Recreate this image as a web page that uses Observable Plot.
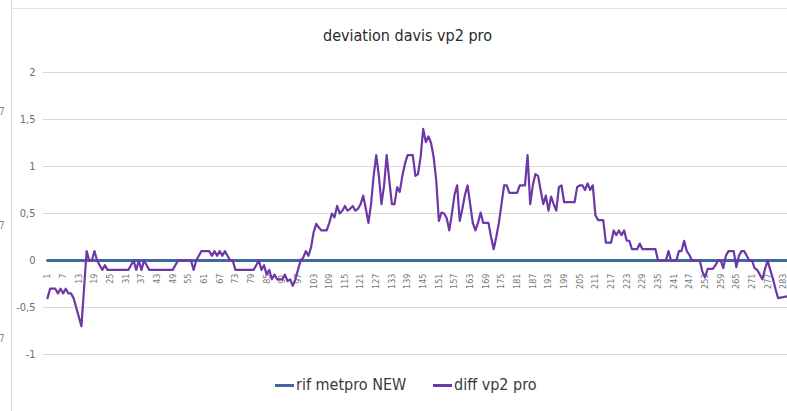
<!DOCTYPE html>
<html><head><meta charset="utf-8">
<script src="https://cdn.jsdelivr.net/npm/d3@7"></script>
<script src="https://cdn.jsdelivr.net/npm/@observablehq/plot@0.6"></script>
<style>
body{margin:0;background:#fff;}
#wrap{position:relative;width:787px;height:411px;overflow:hidden;background:#fff;font-family:"Liberation Sans Narrow","DejaVu Sans Condensed",sans-serif;}
#wrap svg{position:absolute;left:0;top:0;}
.abs{position:absolute;white-space:nowrap;}
</style></head><body>
<div id="wrap"></div>
<script>
const title = "deviation davis vp2 pro";
const seriesNames = ["rif metpro NEW", "diff vp2 pro"];
const seriesColors = ["#41679f", "#6c37a6"];
const yTicks = [-1, -0.5, 0, 0.5, 1, 1.5, 2];
const xTickLabels = [1,7,13,19,25,31,37,43,49,55,61,67,73,79,85,91,97,103,109,115,121,127,133,139,145,151,157,163,169,175,181,187,193,199,205,211,217,223,229,235,241,247,253,259,265,271,277,283];
const rifIdx = [1, 285];
const rifVal = [0, 0];
const diffIdx = [1,2,4,5,6,7,8,9,10,11,12,13,14,15,16,17,18,19,20,21,22,23,24,25,32,33,34,35,36,37,38,39,40,49,50,51,56,57,58,59,60,63,64,65,66,67,68,69,70,71,72,73,80,81,82,83,84,85,86,87,88,89,91,92,93,94,95,96,97,98,99,100,101,102,103,104,105,106,108,109,110,111,112,113,114,115,116,117,118,119,120,121,122,123,124,125,126,127,128,129,130,131,132,133,134,135,136,137,138,139,141,142,143,144,145,146,147,148,149,150,151,152,153,154,155,156,157,158,159,160,161,162,163,164,165,166,167,168,170,171,172,173,174,175,176,177,178,181,182,184,185,186,187,188,189,190,191,192,193,194,195,196,197,198,199,203,204,205,206,207,208,209,210,211,212,214,215,217,218,219,220,221,222,223,224,225,227,228,229,234,235,238,239,240,242,243,244,245,246,247,248,251,252,253,254,256,257,258,259,260,261,262,264,265,266,267,268,269,270,271,272,273,274,275,276,277,278,279,280,281,285];
const diffVal = [-0.40,-0.30,-0.30,-0.35,-0.30,-0.35,-0.30,-0.35,-0.35,-0.40,-0.50,-0.60,-0.70,-0.30,0.10,0.00,0.00,0.10,0.00,-0.05,-0.10,-0.05,-0.10,-0.10,-0.10,-0.05,0.00,-0.10,0.00,-0.10,0.00,-0.05,-0.10,-0.10,-0.05,0.00,0.00,-0.10,0.00,0.05,0.10,0.10,0.05,0.10,0.05,0.10,0.05,0.10,0.05,0.00,0.00,-0.10,-0.10,-0.05,0.00,-0.10,-0.05,-0.15,-0.10,-0.20,-0.15,-0.20,-0.20,-0.15,-0.22,-0.20,-0.27,-0.20,-0.10,0.00,0.03,0.10,0.05,0.14,0.30,0.39,0.35,0.32,0.32,0.40,0.50,0.46,0.58,0.50,0.53,0.58,0.53,0.55,0.58,0.53,0.55,0.60,0.69,0.55,0.40,0.60,0.90,1.12,0.90,0.60,0.80,1.12,0.85,0.60,0.60,0.78,0.73,0.90,1.03,1.12,1.12,0.90,0.92,1.10,1.40,1.26,1.32,1.25,1.10,0.85,0.42,0.51,0.50,0.45,0.32,0.50,0.70,0.80,0.42,0.55,0.70,0.80,0.60,0.40,0.32,0.40,0.51,0.40,0.40,0.25,0.12,0.25,0.40,0.60,0.80,0.80,0.72,0.72,0.80,0.80,1.12,0.60,0.80,0.92,0.90,0.75,0.60,0.69,0.53,0.68,0.60,0.53,0.78,0.80,0.62,0.62,0.78,0.80,0.80,0.75,0.82,0.75,0.80,0.48,0.43,0.43,0.19,0.19,0.32,0.27,0.32,0.27,0.32,0.21,0.21,0.12,0.12,0.18,0.12,0.12,0.00,0.00,0.10,0.00,0.00,0.10,0.10,0.21,0.10,0.06,0.00,0.00,-0.12,-0.18,-0.09,-0.09,-0.05,0.00,0.00,-0.08,0.05,0.10,0.10,-0.07,0.05,0.10,0.10,0.05,0.00,0.00,-0.08,-0.10,-0.15,-0.20,-0.09,0.00,-0.10,-0.19,-0.30,-0.40,-0.38];
const strayLabels = ["7", "7", "7"];

const rifData = rifIdx.map((i, k) => ({i, v: rifVal[k]}));
const diffData = diffIdx.map((i, k) => ({i, v: diffVal[k]}));
const fmt = d => String(d).replace(".", ",");

const chart = Plot.plot({
  width: 787, height: 411,
  marginLeft: 43, marginRight: 0, marginTop: 72, marginBottom: 57,
  x: {type: "linear", domain: [1, 285], range: [47, 788], axis: null},
  y: {domain: [-1, 2], axis: null},
  style: {background: "transparent", fontFamily: "'Liberation Sans Narrow','DejaVu Sans Condensed',sans-serif"},
  marks: [
    Plot.ruleY(yTicks.filter(d => d !== 0), {stroke: "#d9d9d9", strokeWidth: 1}),
    Plot.text(yTicks, {y: d => d, text: fmt, frameAnchor: "left", dx: -8, textAnchor: "end", fill: "#6e6e6e", fontSize: 11}),
    Plot.text(xTickLabels, {x: d => d, y: 0, text: d => String(d), rotate: -90, textAnchor: "end", dy: 13, fill: "#777", fontSize: 9}),
    Plot.line(rifData, {x: "i", y: "v", stroke: seriesColors[0], strokeWidth: 2.8}),
    Plot.line(diffData, {x: "i", y: "v", stroke: seriesColors[1], strokeWidth: 2.2, strokeLinejoin: "round"})
  ]
});

const wrap = document.getElementById("wrap");
wrap.appendChild(chart);

function addDiv(css, text) {
  const d = document.createElement("div");
  d.className = "abs";
  d.style.cssText = css;
  if (text != null) d.textContent = text;
  wrap.appendChild(d);
  return d;
}
// chart area borders
addDiv("left:11px;top:0;width:1px;height:411px;background:#d9d9d9;");
addDiv("left:11px;top:8px;width:776px;height:1px;background:#e0e0e0;");
// stray cut-off labels at the left edge
[106, 220, 333].forEach((t, k) => addDiv("left:-1px;top:" + t + "px;font-size:10px;color:#8a8a8a;", strayLabels[k]));
// title
addDiv("left:0;width:815px;top:26px;text-align:center;font-size:16px;color:#2a2a2a;", title);
// legend
addDiv("left:275px;top:384px;width:19px;height:3px;background:" + seriesColors[0] + ";");
addDiv("left:296px;top:375px;font-size:16px;color:#3a3a3a;", seriesNames[0]);
addDiv("left:433px;top:384px;width:19px;height:3px;background:" + seriesColors[1] + ";");
addDiv("left:454px;top:375px;font-size:16px;color:#3a3a3a;", seriesNames[1]);
</script>
</body></html>
